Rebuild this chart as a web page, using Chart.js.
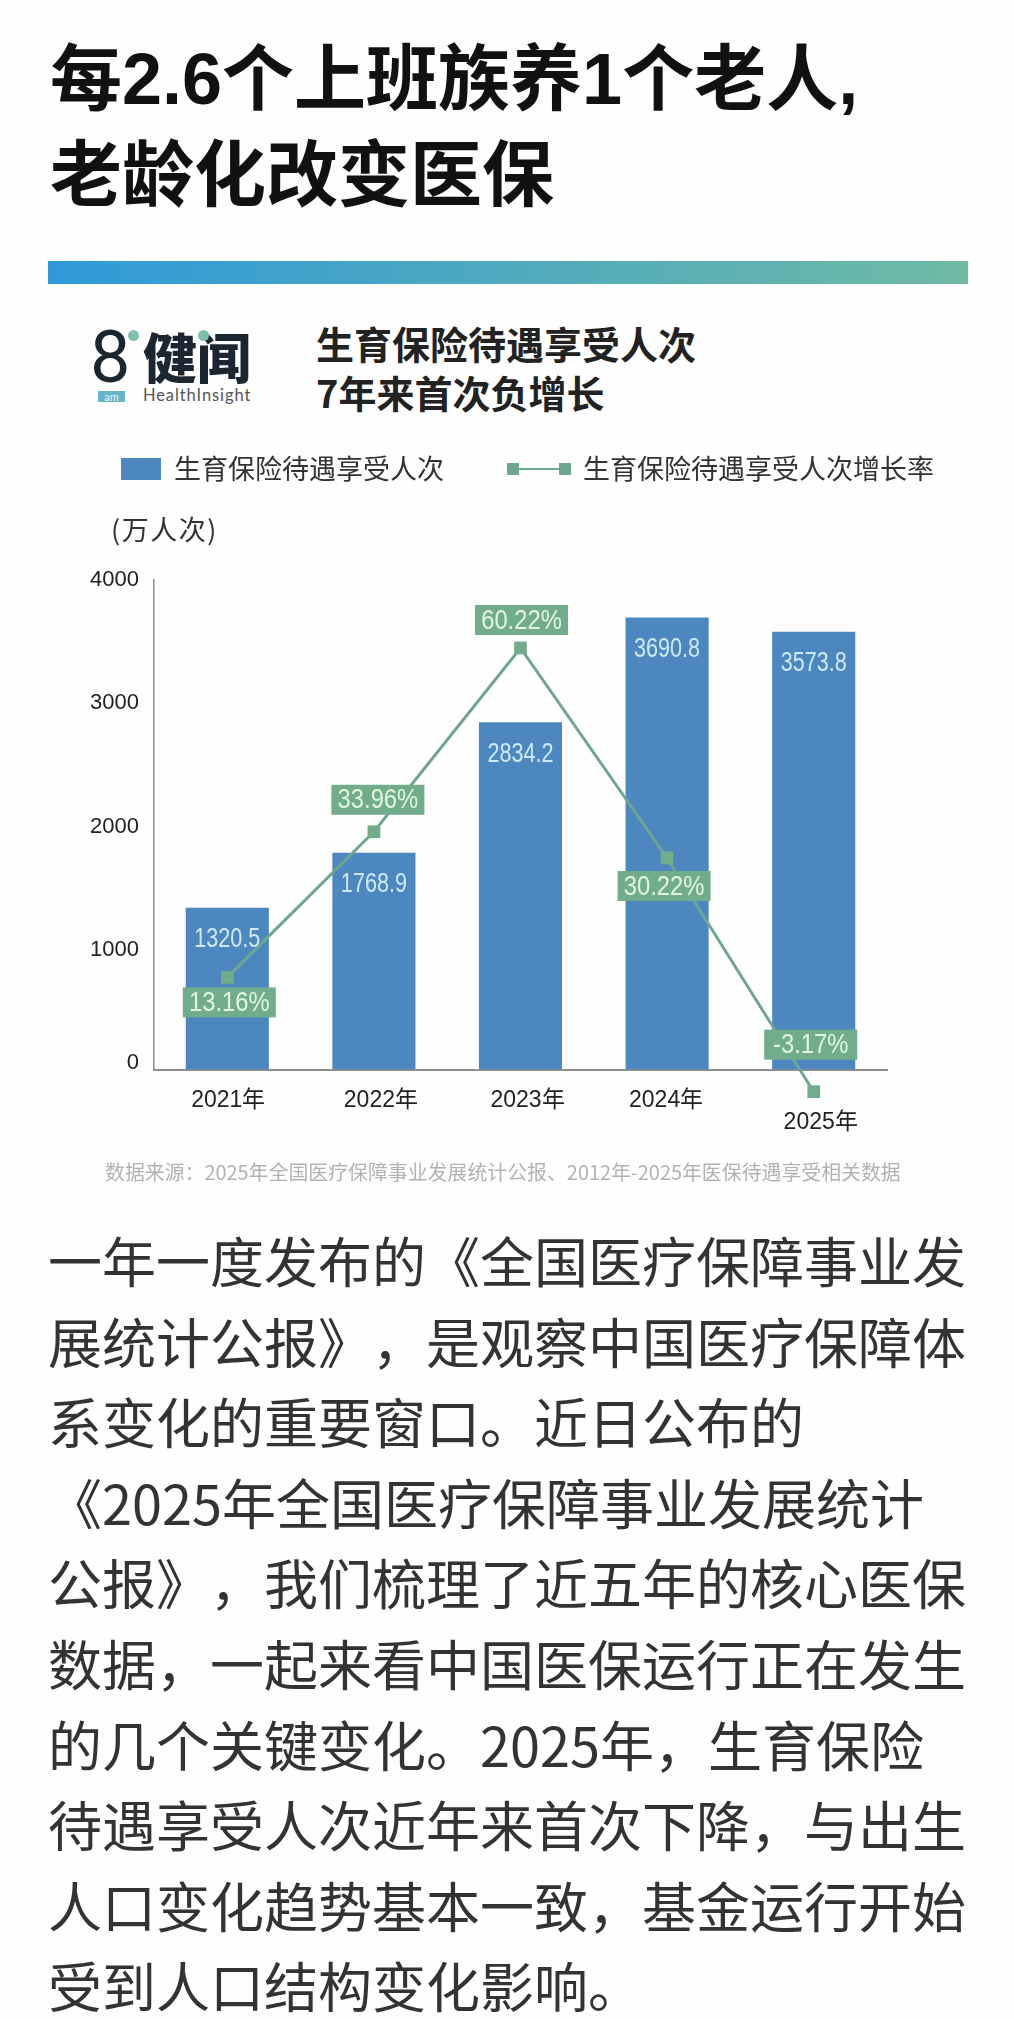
<!DOCTYPE html>
<html lang="zh-CN">
<head>
<meta charset="utf-8">
<title>生育保险待遇享受人次</title>
<script src="https://cdn.jsdelivr.net/npm/chart.js@4"></script>
<style>
    html, body { margin: 0; padding: 0; background: #fefefe; }
    body { position: relative; width: 1014px; height: 2019px; overflow: hidden; font-family: "Noto Sans CJK SC", sans-serif; text-spacing-trim: space-all; }
    .abs { position: absolute; white-space: nowrap; }
    #titulo { left: 50px; top: 31px; margin: 0; font-family: "Liberation Sans", "Noto Sans CJK SC", sans-serif; font-size: 72px; line-height: 96px; font-weight: 700; color: #111; }
    #faixa { left: 48px; top: 261px; width: 920px; height: 23px; background: linear-gradient(90deg, #2f9ad9, #6fbaa4); }
    #grafico { position: absolute; left: 0; top: 358px; }
    #subtitulo { left: 316px; top: 318px; font-size: 38px; line-height: 49px; font-weight: 700; color: #222; }
    #unidade { left: 111px; top: 512px; font-size: 27px; line-height: 34px; letter-spacing: 1.5px; color: #333; }
    #fonte { left: 105px; top: 1158px; font-size: 19.9px; line-height: 28px; color: #b2b2b2; }
    #texto { left: 48px; top: 1220px; font-size: 54px; line-height: 80.6px; color: #333; }
    #logo8 { left: 90px; top: 318px; font: 400 72px/80px Roboto, sans-serif; color: #1c2630; }
    #logoNome { left: 143px; top: 318px; font-size: 54px; line-height: 76px; font-weight: 900; color: #1c2630; }
    #logoEn { left: 143px; top: 385px; font: 16.5px/20px Lato, sans-serif; letter-spacing: .9px; color: #555; }
    #logoAm { left: 98px; top: 391px; width: 27px; height: 11px; background: #68b4cb; color: #e8f6fb; font: 11px/11px Lato, sans-serif; text-align: center; }
    .ponto { width: 11px; height: 11px; border-radius: 50%; background: #7cc0b0; }
</style>
</head>
<body>
    <h1 id="titulo" class="abs">每2.6个上班族养1个老人,<br>老龄化改变医保</h1>
    <div id="faixa" class="abs"></div>

    <div id="logo8" class="abs">8</div>
    <div id="logoNome" class="abs">健闻</div>
    <div class="abs ponto" style="left:128px;top:330px"></div>
    <div class="abs ponto" style="left:198px;top:330px"></div>
    <div id="logoAm" class="abs">am</div>
    <div id="logoEn" class="abs">HealthInsight</div>
    <div id="subtitulo" class="abs">生育保险待遇享受人次<br>7年来首次负增长</div>

    <canvas id="grafico" width="1040" height="802"></canvas>
    <div id="unidade" class="abs">(万人次)</div>
    <div id="fonte" class="abs">数据来源：2025年全国医疗保障事业发展统计公报、2012年-2025年医保待遇享受相关数据</div>

    <div id="texto" class="abs">一年一度发布的《全国医疗保障事业发<br>展统计公报》，是观察中国医疗保障体<br>系变化的重要窗口。近日公布的<br>《2025年全国医疗保障事业发展统计<br>公报》，我们梳理了近五年的核心医保<br>数据，一起来看中国医保运行正在发生<br>的几个关键变化。2025年，生育保险<br>待遇享受人次近年来首次下降，与出生<br>人口变化趋势基本一致，基金运行开始<br>受到人口结构变化影响。</div>

<script>
// Dados
const categorias = ['2021年', '2022年', '2023年', '2024年', '2025年'];
const beneficiarios = [1320.5, 1768.9, 2834.2, 3690.8, 3573.8];
const crescimento = [13.16, 33.96, 60.22, 30.22, -3.17];
const yTicks = [0, 1000, 2000, 3000, 4000];

const serieBarras = '生育保险待遇享受人次';
const serieLinha = '生育保险待遇享受人次增长率';

// Cores
const azul = '#4d87bf';
const verdeLinha = '#6fa68f';
const verdeCaixa = '#72ad8b';
const fonteNumeros = '"Liberation Sans", sans-serif';

// Ajustes finos: no original os rótulos foram colocados à mão
const nudgeX = [[1, 0], [7, 0], [7, 0], [-1, 0], [7, 22]];
const nudgeY = [-7, 3, 2, 1, 0];
const caixaOffset = [[2, 25], [4, -32], [1, -28], [-3, 28], [-3, -47]];

// Amostras da legenda: o canvas é centrado na caixa de 28px do Chart.js
const amostraBarra = document.createElement('canvas');
amostraBarra.width = 51;
amostraBarra.height = 22;
let c = amostraBarra.getContext('2d');
c.fillStyle = azul;
c.fillRect(0, 0, 40, 22);

const amostraLinha = document.createElement('canvas');
amostraLinha.width = 97;
amostraLinha.height = 14;
c = amostraLinha.getContext('2d');
c.fillStyle = verdeLinha;
c.fillRect(6, 6, 52, 2);
c.fillRect(0, 1, 12, 12);
c.fillRect(52, 1, 12, 12);

// Espaço entre a legenda e a área do gráfico
const margemLegenda = {
    id: 'margemLegenda',
    beforeInit(chart) {
        const fitOriginal = chart.legend.fit;
        chart.legend.fit = function () {
            fitOriginal.call(this);
            this.height += 87;
        };
    }
};

// Desloca os rótulos dos eixos depois que o layout foi calculado
const ajusteRotulos = {
    id: 'ajusteRotulos',
    afterUpdate(chart) {
        chart.scales.x.getLabelItems(chart.chartArea).forEach((item, i) => {
            item.options.translation[0] += nudgeX[i][0];
            item.options.translation[1] += nudgeX[i][1];
        });
        chart.scales.y.getLabelItems(chart.chartArea).forEach((item, i) => {
            item.options.translation[1] += nudgeY[i];
        });
    }
};

// Os números do original são condensados, então o texto é comprimido na horizontal
const textoEstreito = (ctx, texto, x, y, escala) => {
    ctx.save();
    ctx.translate(x, y);
    ctx.scale(escala, 1);
    ctx.fillText(texto, 0, 0);
    ctx.restore();
};

const rotulosDados = {
    id: 'rotulosDados',
    afterDatasetsDraw(chart) {
        const ctx = chart.ctx;
        const barras = chart.getDatasetMeta(0).data;
        const pontos = chart.getDatasetMeta(1).data;
        ctx.save();
        ctx.textAlign = 'center';
        ctx.textBaseline = 'middle';

        // O ponto de 2025 fica abaixo da área do gráfico e o Chart.js não o desenharia
        pontos[4].draw(ctx, { left: 0, top: 0, right: chart.width, bottom: chart.height });

        ctx.font = '27px ' + fonteNumeros;
        ctx.fillStyle = '#cdeaf6';
        barras.forEach((barra, i) => {
            textoEstreito(ctx, beneficiarios[i].toFixed(1), barra.x, barra.y + 32, 0.8);
        });

        ctx.font = '28px ' + fonteNumeros;
        pontos.forEach((ponto, i) => {
            const x = ponto.x + caixaOffset[i][0];
            const y = ponto.y + caixaOffset[i][1];
            ctx.fillStyle = verdeCaixa;
            ctx.fillRect(x - 46.5, y - 15, 93, 30);
            ctx.fillStyle = '#e2f6da';
            textoEstreito(ctx, crescimento[i].toFixed(2) + '%', x, y + 1, 0.85);
        });
        ctx.restore();
    }
};

new Chart(document.getElementById('grafico'), {
    type: 'bar',
    data: {
        labels: categorias,
        datasets: [
            {
                label: serieBarras,
                data: beneficiarios,
                yAxisID: 'y',
                order: 1,
                backgroundColor: azul,
                categoryPercentage: 0.567,
                barPercentage: 1
            },
            {
                label: serieLinha,
                type: 'line',
                data: crescimento,
                yAxisID: 'y1',
                order: 0,
                clip: false,
                tension: 0,
                borderColor: verdeLinha,
                borderWidth: 3,
                pointStyle: 'rect',
                pointRadius: 9,
                pointBackgroundColor: verdeCaixa,
                pointBorderWidth: 0
            }
        ]
    },
    options: {
        responsive: false,
        animation: false,
        layout: { padding: { left: 35 } },
        plugins: {
            tooltip: { enabled: false },
            legend: {
                position: 'top',
                align: 'start',
                onClick: null,
                labels: {
                    usePointStyle: true,
                    pointStyleWidth: 28,
                    boxHeight: 27,
                    padding: 97.5,
                    color: '#333',
                    font: { family: '"Noto Sans CJK SC"', size: 27 },
                    generateLabels: () => [
                        { text: serieBarras, pointStyle: amostraBarra, lineWidth: 0, fontColor: '#333' },
                        { text: serieLinha, pointStyle: amostraLinha, lineWidth: 0, fontColor: '#333' }
                    ]
                }
            }
        },
        scales: {
            x: {
                afterFit: (scale) => { scale.height = 90.5; },
                grid: { display: false },
                border: { color: '#8f8f8f', width: 2 },
                ticks: {
                    autoSkip: false,
                    maxRotation: 0,
                    padding: 12,
                    color: '#222',
                    font: { family: fonteNumeros, size: 23, lineHeight: 1 }
                }
            },
            y: {
                min: 0,
                max: 4000,
                afterFit: (scale) => { scale.width = 119; },
                afterBuildTicks: (scale) => { scale.ticks = yTicks.map(value => ({ value })); },
                grid: { display: false },
                border: { color: '#8f8f8f', width: 1.5 },
                ticks: {
                    padding: 7,
                    color: '#222',
                    font: { family: fonteNumeros, size: 22, lineHeight: 1 },
                    callback: (value) => String(value)
                }
            },
            // Escala da taxa de crescimento, sem eixo visível; a largura reserva a margem direita
            y1: {
                position: 'right',
                min: 0,
                max: 70,
                afterFit: (scale) => { scale.width = 153; },
                grid: { display: false },
                border: { display: false },
                ticks: { display: false }
            }
        }
    },
    plugins: [margemLegenda, ajusteRotulos, rotulosDados]
});
</script>
</body>
</html>
